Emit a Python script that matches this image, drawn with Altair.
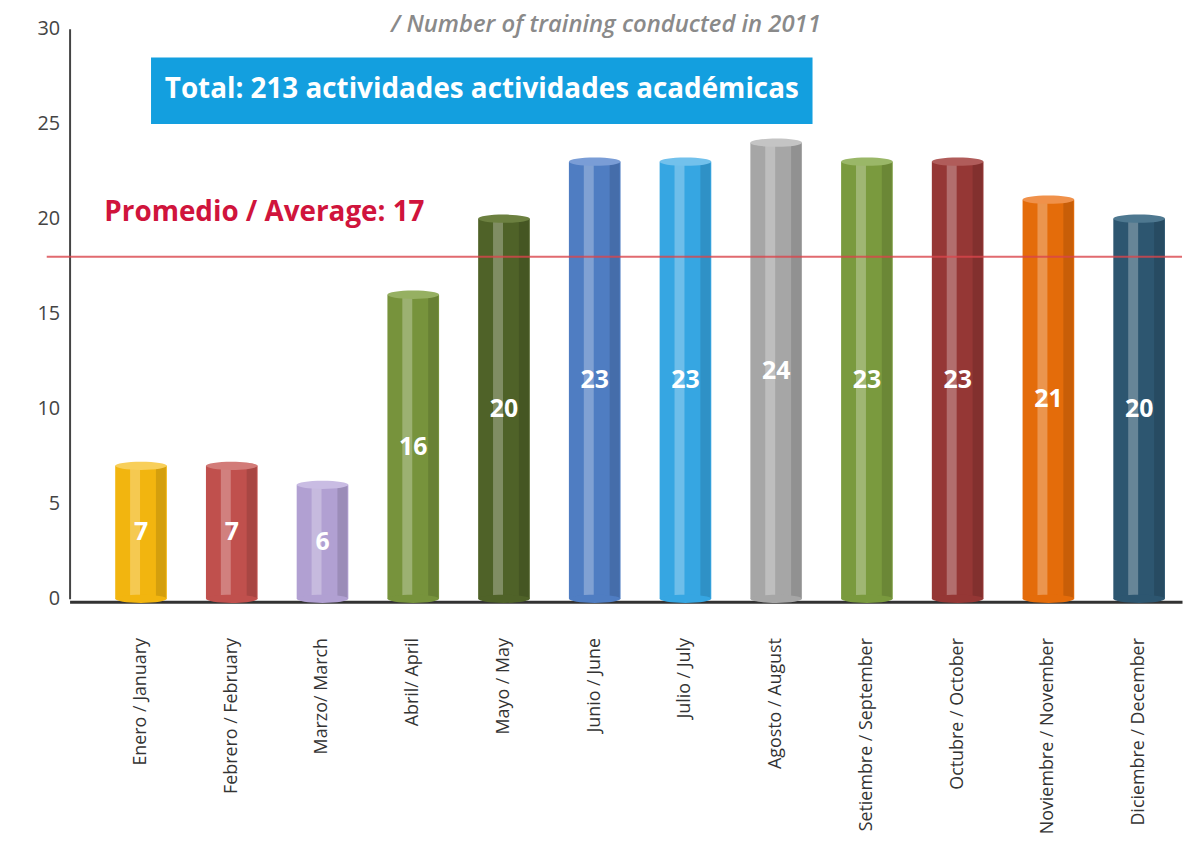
import altair as alt
import pandas as pd

months = ["Enero / January", "Febrero / February", "Marzo/ March", "Abril/ April",
          "Mayo / May", "Junio / June", "Julio / July", "Agosto / August",
          "Setiembre / September", "Octubre / October", "Noviembre / November",
          "Diciembre / December"]
values = [7, 7, 6, 16, 20, 23, 23, 24, 23, 23, 21, 20]
colors = ["#F2B50F", "#C0504D", "#B1A0D2", "#77933C", "#4F6228", "#4F7DC2",
          "#36A6E2", "#A6A6A6", "#7A9A3E", "#953735", "#E46C0A", "#2D5670"]
cap_colors = ["#F8CF5A", "#D27B78", "#C9BCE3", "#96B062", "#6C8040", "#7A9DD6",
              "#72C1EC", "#C4C4C4", "#9AB768", "#B05C5A", "#F0914A", "#4E7890"]
average_line = 18
average_label = "Promedio / Average: 17"
total_label = "Total: 213 actividades actividades académicas"
subtitle = "/ Number of training conducted in 2011"

df = pd.DataFrame({"mes": months, "valor": values, "color": colors, "cap": cap_colors})
df["mid"] = df["valor"] / 2

W, H = 1120, 574
BAR = 52
FONT = "Open Sans"

xs = alt.Scale(paddingInner=0.44, paddingOuter=0.35, align=0.725, round=False)
x = alt.X("mes:N", sort=months, title=None, scale=xs,
          axis=alt.Axis(labelAngle=-90, labelAlign="right", labelBaseline="middle",
                        labelFontSize=18, labelColor="#333333", labelFont=FONT,
                        labelPadding=36, ticks=False, domainColor="#333333",
                        domainWidth=3, offset=3, labelLimit=300))
y = alt.Y("valor:Q", title=None,
          scale=alt.Scale(domain=[0, 30], nice=False),
          axis=alt.Axis(values=[0, 5, 10, 15, 20, 25, 30], labelFontSize=20,
                        labelColor="#444444", labelFont=FONT, labelPadding=10,
                        ticks=False, grid=False, domainColor="#444444", domainWidth=2))

base = alt.Chart(df)
xc = alt.X("mes:N", sort=months)

bars = base.mark_bar(size=BAR).encode(x=x, y=y, color=alt.Color("color:N", scale=None))
shine = base.mark_bar(size=10, opacity=0.28, color="white", xOffset=-6).encode(x=xc, y="valor:Q")
shade = base.mark_bar(size=10, opacity=0.12, color="black", xOffset=20).encode(x=xc, y="valor:Q")
ellipse = "M-1,0 A1,0.16 0 1,0 1,0 A1,0.16 0 1,0 -1,0 Z"
caps = base.mark_point(shape=ellipse, size=BAR * BAR, filled=True, opacity=1,
                       strokeWidth=0).encode(x=xc, y="valor:Q",
                                             color=alt.Color("cap:N", scale=None))
bottoms = base.mark_point(shape=ellipse, size=BAR * BAR, filled=True, opacity=1,
                          strokeWidth=0).encode(x=xc, y=alt.datum(0),
                                                color=alt.Color("color:N", scale=None))
labels = base.mark_text(color="white", fontSize=25, fontWeight="bold", font=FONT).encode(
    x=xc, y="mid:Q", text="valor:Q")

avg = alt.Chart(pd.DataFrame({"v": [average_line]})).mark_rule(
    color="#D9454B", strokeWidth=2, opacity=0.8).encode(
    y="v:Q", x=alt.value(-23), x2=alt.value(W))
avg_text = alt.Chart(pd.DataFrame({"t": [average_label]})).mark_text(
    color="#D0143C", fontSize=28, fontWeight="bold", font=FONT, align="left").encode(
    text="t:N", x=alt.value(35), y=alt.value(186))

box = alt.Chart(pd.DataFrame({"a": [1]})).mark_rect(color="#139FDF").encode(
    x=alt.value(82), x2=alt.value(748), y=alt.value(29), y2=alt.value(96))
box_text = alt.Chart(pd.DataFrame({"t": [total_label]})).mark_text(
    color="white", fontSize=28, fontWeight="bold", font=FONT).encode(
    text="t:N", x=alt.value(415), y=alt.value(62))
sub = alt.Chart(pd.DataFrame({"t": [subtitle]})).mark_text(
    color="#8A8A8A", fontSize=24, fontWeight=600, fontStyle="italic", font=FONT).encode(
    text="t:N", x=alt.value(540), y=alt.value(-4))

chart = alt.layer(bars, shine, shade, bottoms, caps, labels, avg, avg_text, box, box_text, sub).properties(
    width=W, height=H,
    autosize=alt.AutoSizeParams(type="none"),
    padding={"left": 62, "top": 18, "right": 2, "bottom": 240},
    background="white",
).configure_view(stroke=None)

chart.save("out.html", embed_options={"renderer": "svg", "actions": False})
